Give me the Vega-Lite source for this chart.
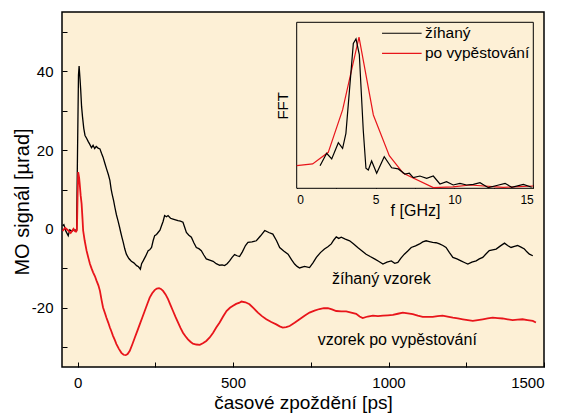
{
"$schema": "https://vega.github.io/schema/vega-lite/v6.json",
"width": 482, "height": 355,
"autosize": {"type": "none"},
"padding": {"left": 62, "top": 12, "right": 19, "bottom": 51},
"background": "white",
"config": {
 "font": "Liberation Sans",
 "view": {"fill": "#fdf0d6", "stroke": "#000", "strokeWidth": 1.5},
 "axis": {"grid": false, "domainColor": "#000", "tickColor": "#000", "labelColor": "#000", "titleColor": "#000", "titleFontWeight": "normal", "zindex": 1}
},
"datasets": {
 "main": [
{"s":"žíhaný","t":-48,"v":0.8},{"s":"žíhaný","t":-44,"v":1.1},{"s":"žíhaný","t":-38,"v":-0.5},{"s":"žíhaný","t":-30,"v":-1.7},{"s":"žíhaný","t":-25,"v":-0.2},{"s":"žíhaný","t":-18,"v":-0.6},{"s":"žíhaný","t":-10,"v":-0.2},{"s":"žíhaný","t":-5,"v":-0.4},{"s":"žíhaný","t":-3,"v":0},{"s":"žíhaný","t":0,"v":20},{"s":"žíhaný","t":3,"v":39},{"s":"žíhaný","t":5,"v":41.3},{"s":"žíhaný","t":8,"v":38},{"s":"žíhaný","t":10,"v":35.5},{"s":"žíhaný","t":13,"v":31},{"s":"žíhaný","t":16,"v":28.4},{"s":"žíhaný","t":20,"v":25.5},{"s":"žíhaný","t":24,"v":23.7},{"s":"žíhaný","t":29,"v":23},{"s":"žíhaný","t":34,"v":22.2},{"s":"žíhaný","t":39,"v":21.5},{"s":"žíhaný","t":45,"v":20.6},{"s":"žíhaný","t":50,"v":21.2},{"s":"žíhaný","t":55,"v":20.4},{"s":"žíhaný","t":60,"v":20.9},{"s":"žíhaný","t":66,"v":20.5},{"s":"žíhaný","t":72,"v":20.3},{"s":"žíhaný","t":77,"v":19.2},{"s":"žíhaný","t":82,"v":18.2},{"s":"žíhaný","t":88,"v":16.6},{"s":"žíhaný","t":93,"v":15.3},{"s":"žíhaný","t":99,"v":13.8},{"s":"žíhaný","t":104,"v":12.3},{"s":"žíhaný","t":108,"v":10.1},{"s":"žíhaný","t":111,"v":8.9},{"s":"žíhaný","t":116,"v":7.2},{"s":"žíhaný","t":120,"v":5.5},{"s":"žíhaný","t":125,"v":3.6},{"s":"žíhaný","t":130,"v":2.1},{"s":"žíhaný","t":135,"v":0.5},{"s":"žíhaný","t":139,"v":-0.9},{"s":"žíhaný","t":143,"v":-2.2},{"s":"žíhaný","t":147,"v":-3.4},{"s":"žíhaný","t":152,"v":-5.1},{"s":"žíhaný","t":157,"v":-6.4},{"s":"žíhaný","t":165,"v":-7.5},{"s":"žíhaný","t":173,"v":-8.2},{"s":"žíhaný","t":181,"v":-8.6},{"s":"žíhaný","t":190,"v":-9.3},{"s":"žíhaný","t":196,"v":-9.6},{"s":"žíhaný","t":202,"v":-10.2},{"s":"žíhaný","t":206,"v":-8.8},{"s":"žíhaný","t":211,"v":-8.1},{"s":"žíhaný","t":219,"v":-6.9},{"s":"žíhaný","t":227,"v":-5.5},{"s":"žíhaný","t":232,"v":-5.3},{"s":"žíhaný","t":238,"v":-4.7},{"s":"žíhaný","t":243,"v":-3},{"s":"žíhaný","t":248,"v":-1.7},{"s":"žíhaný","t":254,"v":-1.4},{"s":"žíhaný","t":259,"v":-0.9},{"s":"žíhaný","t":265,"v":-0.3},{"s":"žíhaný","t":270,"v":0.8},{"s":"žíhaný","t":275,"v":1.9},{"s":"žíhaný","t":280,"v":3.4},{"s":"žíhaný","t":286,"v":3.1},{"s":"žíhaný","t":291,"v":3.4},{"s":"žíhaný","t":299,"v":2.7},{"s":"žíhaný","t":307,"v":2.5},{"s":"žíhaný","t":315,"v":2.3},{"s":"žíhaný","t":323,"v":2.1},{"s":"žíhaný","t":331,"v":2.0},{"s":"žíhaný","t":339,"v":1.7},{"s":"žíhaný","t":345,"v":0.3},{"s":"žíhaný","t":350,"v":-0.9},{"s":"žíhaný","t":358,"v":-1.6},{"s":"žíhaný","t":366,"v":-2.1},{"s":"žíhaný","t":374,"v":-3.5},{"s":"žíhaný","t":382,"v":-4.7},{"s":"žíhaný","t":390,"v":-5.0},{"s":"žíhaný","t":398,"v":-5.5},{"s":"žíhaný","t":406,"v":-6.6},{"s":"žíhaný","t":414,"v":-7.6},{"s":"žíhaný","t":425,"v":-7.9},{"s":"žíhaný","t":436,"v":-8.2},{"s":"žíhaný","t":446,"v":-8.8},{"s":"žíhaný","t":457,"v":-9.2},{"s":"žíhaný","t":465,"v":-9.1},{"s":"žíhaný","t":473,"v":-9.3},{"s":"žíhaný","t":481,"v":-8.8},{"s":"žíhaný","t":489,"v":-8.1},{"s":"žíhaný","t":497,"v":-7.2},{"s":"žíhaný","t":505,"v":-6.5},{"s":"žíhaný","t":513,"v":-6.8},{"s":"žíhaný","t":521,"v":-7.0},{"s":"žíhaný","t":530,"v":-5.8},{"s":"žíhaný","t":540,"v":-4.2},{"s":"žíhaný","t":548,"v":-3.4},{"s":"žíhaný","t":561,"v":-3.3},{"s":"žíhaný","t":575,"v":-3.0},{"s":"žíhaný","t":588,"v":-1.8},{"s":"žíhaný","t":602,"v":-0.4},{"s":"žíhaný","t":615,"v":-0.9},{"s":"žíhaný","t":628,"v":-1.3},{"s":"žíhaný","t":640,"v":-3.0},{"s":"žíhaný","t":650,"v":-4.7},{"s":"žíhaný","t":663,"v":-5.6},{"s":"žíhaný","t":677,"v":-6.4},{"s":"žíhaný","t":688,"v":-7.8},{"s":"žíhaný","t":698,"v":-8.9},{"s":"žíhaný","t":706,"v":-9.5},{"s":"žíhaný","t":714,"v":-9.9},{"s":"žíhaný","t":730,"v":-9.5},{"s":"žíhaný","t":746,"v":-9.8},{"s":"žíhaný","t":757,"v":-8.6},{"s":"žíhaný","t":768,"v":-7.2},{"s":"žíhaný","t":781,"v":-6.0},{"s":"žíhaný","t":794,"v":-5.1},{"s":"žíhaný","t":805,"v":-4.5},{"s":"žíhaný","t":816,"v":-3.8},{"s":"žíhaný","t":824,"v":-2.8},{"s":"žíhaný","t":832,"v":-2.0},{"s":"žíhaný","t":840,"v":-2.4},{"s":"žíhaný","t":848,"v":-2.1},{"s":"žíhaný","t":861,"v":-2.6},{"s":"žíhaný","t":875,"v":-3.0},{"s":"žíhaný","t":888,"v":-3.8},{"s":"žíhaný","t":901,"v":-4.7},{"s":"žíhaný","t":914,"v":-5.5},{"s":"žíhaný","t":928,"v":-6.4},{"s":"žíhaný","t":941,"v":-7.0},{"s":"žíhaný","t":955,"v":-7.6},{"s":"žíhaný","t":968,"v":-8.2},{"s":"žíhaný","t":982,"v":-8.9},{"s":"žíhaný","t":995,"v":-8.4},{"s":"žíhaný","t":1009,"v":-8.1},{"s":"žíhaný","t":1020,"v":-8.7},{"s":"žíhaný","t":1030,"v":-8.5},{"s":"žíhaný","t":1040,"v":-7.4},{"s":"žíhaný","t":1051,"v":-6.4},{"s":"žíhaný","t":1062,"v":-5.6},{"s":"žíhaný","t":1073,"v":-4.7},{"s":"žíhaný","t":1087,"v":-4.3},{"s":"žíhaný","t":1100,"v":-3.8},{"s":"žíhaný","t":1110,"v":-3.3},{"s":"žíhaný","t":1121,"v":-3.0},{"s":"žíhaný","t":1131,"v":-3.2},{"s":"žíhaný","t":1142,"v":-3.4},{"s":"žíhaný","t":1153,"v":-3.5},{"s":"žíhaný","t":1164,"v":-3.8},{"s":"žíhaný","t":1175,"v":-4.2},{"s":"žíhaný","t":1185,"v":-4.7},{"s":"žíhaný","t":1196,"v":-6.0},{"s":"žíhaný","t":1207,"v":-7.2},{"s":"žíhaný","t":1220,"v":-7.6},{"s":"žíhaný","t":1233,"v":-8.1},{"s":"žíhaný","t":1244,"v":-8.5},{"s":"žíhaný","t":1255,"v":-8.9},{"s":"žíhaný","t":1268,"v":-8.4},{"s":"žíhaný","t":1282,"v":-8.1},{"s":"žíhaný","t":1292,"v":-7.6},{"s":"žíhaný","t":1303,"v":-7.2},{"s":"žíhaný","t":1314,"v":-6.3},{"s":"žíhaný","t":1324,"v":-5.5},{"s":"žíhaný","t":1335,"v":-5.3},{"s":"žíhaný","t":1346,"v":-5.1},{"s":"žíhaný","t":1360,"v":-4.3},{"s":"žíhaný","t":1373,"v":-3.6},{"s":"žíhaný","t":1383,"v":-4.2},{"s":"žíhaný","t":1394,"v":-4.7},{"s":"žíhaný","t":1405,"v":-4.4},{"s":"žíhaný","t":1415,"v":-4.2},{"s":"žíhaný","t":1426,"v":-4.6},{"s":"žíhaný","t":1437,"v":-5.1},{"s":"žíhaný","t":1445,"v":-5.8},{"s":"žíhaný","t":1453,"v":-6.4},{"s":"žíhaný","t":1464,"v":-6.8},
{"s":"po vypěstování","t":-48,"v":-0.5},{"s":"po vypěstování","t":-40,"v":0.3},{"s":"po vypěstování","t":-30,"v":-0.4},{"s":"po vypěstování","t":-22,"v":-1.0},{"s":"po vypěstování","t":-13,"v":0},{"s":"po vypěstování","t":-8,"v":-0.6},{"s":"po vypěstování","t":-5,"v":-0.7},{"s":"po vypěstování","t":-2,"v":-0.3},{"s":"po vypěstování","t":0,"v":8},{"s":"po vypěstování","t":2,"v":14.4},{"s":"po vypěstování","t":5,"v":13},{"s":"po vypěstování","t":7,"v":11.4},{"s":"po vypěstování","t":10,"v":8.5},{"s":"po vypěstování","t":13,"v":6.4},{"s":"po vypěstování","t":16,"v":2.5},{"s":"po vypěstování","t":18,"v":-0.4},{"s":"po vypěstování","t":23,"v":-3},{"s":"po vypěstování","t":29,"v":-5.5},{"s":"po vypěstování","t":35,"v":-7.4},{"s":"po vypěstování","t":40,"v":-8.9},{"s":"po vypěstování","t":45,"v":-10},{"s":"po vypěstování","t":50,"v":-11},{"s":"po vypěstování","t":56,"v":-12},{"s":"po vypěstování","t":61,"v":-13.1},{"s":"po vypěstování","t":67,"v":-14.3},{"s":"po vypěstování","t":72,"v":-15.7},{"s":"po vypěstování","t":77,"v":-17.9},{"s":"po vypěstování","t":82,"v":-19.9},{"s":"po vypěstování","t":88,"v":-21.3},{"s":"po vypěstování","t":93,"v":-22.5},{"s":"po vypěstování","t":99,"v":-23.8},{"s":"po vypěstování","t":104,"v":-25},{"s":"po vypěstování","t":109,"v":-26},{"s":"po vypěstování","t":114,"v":-27.1},{"s":"po vypěstování","t":120,"v":-28.2},{"s":"po vypěstování","t":125,"v":-29.2},{"s":"po vypěstování","t":133,"v":-30.4},{"s":"po vypěstování","t":141,"v":-31.4},{"s":"po vypěstování","t":148,"v":-31.9},{"s":"po vypěstování","t":155,"v":-32},{"s":"po vypěstování","t":161,"v":-31.7},{"s":"po vypěstování","t":168,"v":-30.9},{"s":"po vypěstování","t":176,"v":-29.3},{"s":"po vypěstování","t":184,"v":-27.6},{"s":"po vypěstování","t":192,"v":-25.9},{"s":"po vypěstování","t":200,"v":-24.2},{"s":"po vypěstování","t":208,"v":-22.5},{"s":"po vypěstování","t":216,"v":-20.8},{"s":"po vypěstování","t":224,"v":-19.1},{"s":"po vypěstování","t":232,"v":-17.4},{"s":"po vypěstování","t":240,"v":-16.3},{"s":"po vypěstování","t":248,"v":-15.5},{"s":"po vypěstování","t":255,"v":-15.1},{"s":"po vypěstování","t":262,"v":-15},{"s":"po vypěstování","t":268,"v":-15.2},{"s":"po vypěstování","t":275,"v":-15.7},{"s":"po vypěstování","t":283,"v":-16.6},{"s":"po vypěstování","t":291,"v":-17.8},{"s":"po vypěstování","t":299,"v":-19.3},{"s":"po vypěstování","t":307,"v":-20.8},{"s":"po vypěstování","t":315,"v":-22.3},{"s":"po vypěstování","t":323,"v":-23.7},{"s":"po vypěstování","t":331,"v":-25.1},{"s":"po vypěstování","t":339,"v":-26.3},{"s":"po vypěstování","t":347,"v":-27.2},{"s":"po vypěstování","t":355,"v":-28},{"s":"po vypěstování","t":363,"v":-28.6},{"s":"po vypěstování","t":371,"v":-29.1},{"s":"po vypěstování","t":382,"v":-29.3},{"s":"po vypěstování","t":393,"v":-29.4},{"s":"po vypěstování","t":403,"v":-29.0},{"s":"po vypěstování","t":414,"v":-28.4},{"s":"po vypěstování","t":425,"v":-27.5},{"s":"po vypěstování","t":436,"v":-26.3},{"s":"po vypěstování","t":446,"v":-25},{"s":"po vypěstování","t":457,"v":-23.7},{"s":"po vypěstování","t":468,"v":-22.2},{"s":"po vypěstování","t":479,"v":-20.8},{"s":"po vypěstování","t":490,"v":-20.0},{"s":"po vypěstování","t":500,"v":-19.5},{"s":"po vypěstování","t":510,"v":-19.0},{"s":"po vypěstování","t":521,"v":-18.7},{"s":"po vypěstování","t":527,"v":-18.4},{"s":"po vypěstování","t":540,"v":-18.6},{"s":"po vypěstování","t":553,"v":-19.1},{"s":"po vypěstování","t":566,"v":-20.1},{"s":"po vypěstování","t":580,"v":-21.2},{"s":"po vypěstování","t":593,"v":-22.1},{"s":"po vypěstování","t":607,"v":-22.9},{"s":"po vypěstování","t":623,"v":-23.6},{"s":"po vypěstování","t":639,"v":-24.2},{"s":"po vypěstování","t":650,"v":-24.7},{"s":"po vypěstování","t":660,"v":-25.0},{"s":"po vypěstování","t":671,"v":-24.9},{"s":"po vypěstování","t":682,"v":-24.6},{"s":"po vypěstování","t":698,"v":-23.8},{"s":"po vypěstování","t":714,"v":-22.9},{"s":"po vypěstování","t":730,"v":-22.0},{"s":"po vypěstování","t":746,"v":-21.2},{"s":"po vypěstování","t":762,"v":-20.7},{"s":"po vypěstování","t":778,"v":-20.3},{"s":"po vypěstování","t":792,"v":-20.1},{"s":"po vypěstování","t":805,"v":-20.1},{"s":"po vypěstování","t":818,"v":-20.4},{"s":"po vypěstování","t":832,"v":-20.8},{"s":"po vypěstování","t":848,"v":-20.9},{"s":"po vypěstování","t":864,"v":-20.9},{"s":"po vypěstování","t":880,"v":-21.2},{"s":"po vypěstování","t":896,"v":-21.5},{"s":"po vypěstování","t":907,"v":-22.2},{"s":"po vypěstování","t":917,"v":-22.6},{"s":"po vypěstování","t":933,"v":-22.2},{"s":"po vypěstování","t":950,"v":-22.0},{"s":"po vypěstování","t":966,"v":-22.1},{"s":"po vypěstování","t":982,"v":-22.0},{"s":"po vypěstování","t":998,"v":-21.9},{"s":"po vypěstování","t":1014,"v":-21.8},{"s":"po vypěstování","t":1030,"v":-21.5},{"s":"po vypěstování","t":1046,"v":-21.2},{"s":"po vypěstování","t":1062,"v":-21.4},{"s":"po vypěstování","t":1078,"v":-21.6},{"s":"po vypěstování","t":1094,"v":-22.0},{"s":"po vypěstování","t":1110,"v":-22.3},{"s":"po vypěstování","t":1126,"v":-22.3},{"s":"po vypěstování","t":1142,"v":-22.3},{"s":"po vypěstování","t":1158,"v":-22.1},{"s":"po vypěstování","t":1174,"v":-22.0},{"s":"po vypěstování","t":1190,"v":-22.2},{"s":"po vypěstování","t":1207,"v":-22.5},{"s":"po vypěstování","t":1223,"v":-22.7},{"s":"po vypěstování","t":1239,"v":-22.9},{"s":"po vypěstování","t":1255,"v":-23.1},{"s":"po vypěstování","t":1271,"v":-23.3},{"s":"po vypěstování","t":1287,"v":-23.1},{"s":"po vypěstování","t":1303,"v":-22.9},{"s":"po vypěstování","t":1319,"v":-22.7},{"s":"po vypěstování","t":1335,"v":-22.5},{"s":"po vypěstování","t":1351,"v":-22.6},{"s":"po vypěstování","t":1367,"v":-22.7},{"s":"po vypěstování","t":1383,"v":-22.9},{"s":"po vypěstování","t":1399,"v":-23.1},{"s":"po vypěstování","t":1415,"v":-23.0},{"s":"po vypěstování","t":1431,"v":-22.9},{"s":"po vypěstování","t":1447,"v":-23.1},{"s":"po vypěstování","t":1464,"v":-23.3},{"s":"po vypěstování","t":1474,"v":-23.7}
 ],
 "notes": [
  {"t": 977, "v": -14.0, "label": "žíhaný vzorek"},
  {"t": 1028, "v": -29.4, "label": "vzorek po vypěstování"}
 ],
 "fft": [
{"s":"po vypěstování","f":0,"v":1.45},{"s":"po vypěstování","f":1.01,"v":1.64},{"s":"po vypěstování","f":2.0,"v":2.9},{"s":"po vypěstování","f":2.91,"v":7.5},{"s":"po vypěstování","f":3.95,"v":15.4},{"s":"po vypěstování","f":4.86,"v":6.95},{"s":"po vypěstování","f":5.87,"v":2.54},{"s":"po vypěstování","f":6.76,"v":0.63},{"s":"po vypěstování","f":8.66,"v":-0.93},{"s":"po vypěstování","f":9.9,"v":-0.85},{"s":"po vypěstování","f":11,"v":-0.64},{"s":"po vypěstování","f":13.1,"v":-0.89},{"s":"po vypěstování","f":15,"v":-0.75},
{"s":"žíhaný","f":1.48,"v":1.45},{"s":"žíhaný","f":1.9,"v":2.8},{"s":"žíhaný","f":2.22,"v":2.18},{"s":"žíhaný","f":2.64,"v":3.95},{"s":"žíhaný","f":2.91,"v":3.34},{"s":"žíhaný","f":3.12,"v":4.96},{"s":"žíhaný","f":3.59,"v":14.7},{"s":"žíhaný","f":3.76,"v":15.2},{"s":"žíhaný","f":3.97,"v":13.5},{"s":"žíhaný","f":4.22,"v":5.3},{"s":"žíhaný","f":4.39,"v":1.17},{"s":"žíhaný","f":4.54,"v":0.98},{"s":"žíhaný","f":4.75,"v":1.96},{"s":"žíhaný","f":5.07,"v":0.63},{"s":"žíhaný","f":5.55,"v":2.43},{"s":"žíhaný","f":6.02,"v":1.23},{"s":"žíhaný","f":6.44,"v":1.1},{"s":"žíhaný","f":6.86,"v":0.55},{"s":"žíhaný","f":7.14,"v":0.63},{"s":"žíhaný","f":7.39,"v":0.15},{"s":"žíhaný","f":7.81,"v":0.33},{"s":"žíhaný","f":8.24,"v":0.08},{"s":"žíhaný","f":8.66,"v":0.33},{"s":"žíhaný","f":9.08,"v":-0.53},{"s":"žíhaný","f":9.5,"v":-0.28},{"s":"žíhaný","f":9.92,"v":-0.64},{"s":"žíhaný","f":10.35,"v":-0.46},{"s":"žíhaný","f":10.77,"v":-0.64},{"s":"žíhaný","f":11.2,"v":-0.57},{"s":"žíhaný","f":11.62,"v":-0.39},{"s":"žíhaný","f":12.15,"v":-0.93},{"s":"žíhaný","f":12.68,"v":-0.7},{"s":"žíhaný","f":13.21,"v":-0.46},{"s":"žíhaný","f":13.63,"v":-0.89},{"s":"žíhaný","f":14.37,"v":-0.57},{"s":"žíhaný","f":14.9,"v":-0.89}
 ],
 "frame": [{"f": 0, "f2": 15, "v": -1, "v2": 17}],
 "key": [
  {"s": "žíhaný", "f": 5.41, "f2": 7.92, "ft": 8.13, "v": 15.81},
  {"s": "po vypěstování", "f": 5.41, "f2": 7.92, "ft": 8.13, "v": 13.64}
 ]
},
"layer": [
 {
  "layer": [
   {
    "data": {"name": "main"},
    "mark": {"type": "line", "clip": true},
    "encoding": {
     "x": {"field": "t", "type": "quantitative",
      "scale": {"domain": [-50, 1500], "nice": false, "zero": false},
      "axis": {"title": "časové zpoždění [ps]", "values": [0,250,500,750,1000,1250,1500],
       "labelExpr": "datum.value % 500 === 0 ? toString(datum.value) : ''",
       "tickSize": -5, "labelPadding": 13, "domain": false, "labelFontSize": 15,
       "titleFontSize": 19, "titleY": 41, "titleBaseline": "alphabetic"}},
     "y": {"field": "v", "type": "quantitative",
      "scale": {"domain": [-35, 55], "nice": false, "zero": false},
      "axis": {"title": "MO signál [µrad]", "values": [-30,-20,-10,0,10,20,30,40,50],
       "labelExpr": "datum.value % 20 === 0 ? toString(datum.value) : ''",
       "tickSize": -5, "labelPadding": 14, "domain": false, "labelFontSize": 15,
       "titleFontSize": 20, "titleX": -34, "titleY": 189.5, "titleBaseline": "alphabetic", "titleAngle": 270}},
     "color": {"field": "s", "type": "nominal",
      "scale": {"domain": ["žíhaný", "po vypěstování"], "range": ["#000000", "#e8151b"]},
      "legend": null},
     "strokeWidth": {"field": "s", "type": "nominal",
      "scale": {"domain": ["žíhaný", "po vypěstování"], "range": [1.3, 1.8]},
      "legend": null}
    }
   },
   {
    "data": {"name": "notes"},
    "mark": {"type": "text", "fontSize": 16, "align": "center", "baseline": "alphabetic", "color": "#000"},
    "encoding": {
     "x": {"field": "t", "type": "quantitative", "scale": {"domain": [-50, 1500], "nice": false, "zero": false}},
     "y": {"field": "v", "type": "quantitative", "scale": {"domain": [-35, 55], "nice": false, "zero": false}},
     "text": {"field": "label"}
    }
   }
  ]
 },
 {
  "layer": [
   {
    "data": {"name": "frame"},
    "mark": {"type": "rect", "fill": "#fdf0d6", "stroke": "#000", "strokeWidth": 1},
    "encoding": {
     "x": {"field": "f", "type": "quantitative",
      "scale": {"domain": [0, 15], "nice": false, "zero": false, "range": [234.7, 471.3]},
      "axis": {"orient": "bottom", "offset": -178.7, "title": "f [GHz]", "values": [0,2.5,5,7.5,10,12.5,15],
       "labelExpr": "datum.value % 5 === 0 ? toString(datum.value) : ''",
       "tickSize": -4, "labelPadding": 10, "domain": false, "labelFontSize": 12,
       "titleFontSize": 16, "titleY": 26.7, "titleBaseline": "alphabetic"}},
     "x2": {"field": "f2"},
     "y": {"field": "v", "type": "quantitative",
      "scale": {"domain": [-1, 17], "nice": false, "zero": false, "range": [176.3, 10.3]},
      "axis": {"orient": "left", "offset": -234.7, "title": "FFT", "values": [0,1,2,3,4,5,6,7,8,9,10,11,12,13,14,15,16],
       "labels": false, "tickSize": -4, "domain": false,
       "titleFontSize": 15, "titleX": -9.4, "titleBaseline": "alphabetic", "titleAngle": 270}},
     "y2": {"field": "v2"}
    }
   },
   {
    "data": {"name": "fft"},
    "mark": {"type": "line", "strokeWidth": 1.2},
    "encoding": {
     "x": {"field": "f", "type": "quantitative", "scale": {"domain": [0, 15], "nice": false, "zero": false, "range": [234.7, 471.3]}},
     "y": {"field": "v", "type": "quantitative", "scale": {"domain": [-1, 17], "nice": false, "zero": false, "range": [176.3, 10.3]}},
     "color": {"field": "s", "type": "nominal",
      "scale": {"domain": ["žíhaný", "po vypěstování"], "range": ["#000000", "#e8151b"]},
      "legend": null}
    }
   },
   {
    "data": {"name": "key"},
    "mark": {"type": "rule", "strokeWidth": 1.2},
    "encoding": {
     "x": {"field": "f", "type": "quantitative", "scale": {"domain": [0, 15], "nice": false, "zero": false, "range": [234.7, 471.3]}},
     "x2": {"field": "f2"},
     "y": {"field": "v", "type": "quantitative", "scale": {"domain": [-1, 17], "nice": false, "zero": false, "range": [176.3, 10.3]}},
     "color": {"field": "s", "type": "nominal",
      "scale": {"domain": ["žíhaný", "po vypěstování"], "range": ["#000000", "#e8151b"]},
      "legend": null}
    }
   },
   {
    "data": {"name": "key"},
    "mark": {"type": "text", "fontSize": 15.5, "align": "left", "baseline": "middle", "color": "#000"},
    "encoding": {
     "x": {"field": "ft", "type": "quantitative", "scale": {"domain": [0, 15], "nice": false, "zero": false, "range": [234.7, 471.3]}},
     "y": {"field": "v", "type": "quantitative", "scale": {"domain": [-1, 17], "nice": false, "zero": false, "range": [176.3, 10.3]}},
     "text": {"field": "s"}
    }
   }
  ]
 }
],
"resolve": {"scale": {"x": "independent", "y": "independent"}}
}
